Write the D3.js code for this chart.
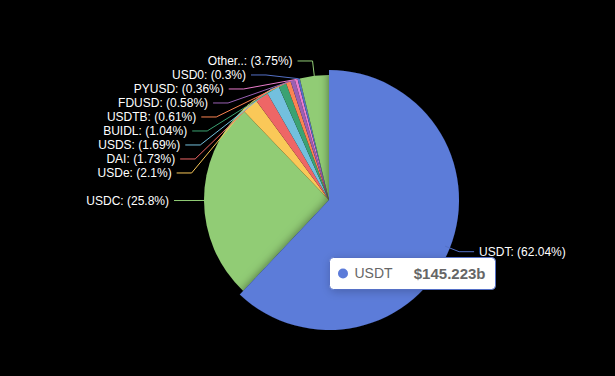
<!DOCTYPE html>
<html>
<head>
<meta charset="utf-8">
<script src="https://cdn.jsdelivr.net/npm/d3@7"></script>
<style>
  html, body { margin: 0; padding: 0; background: #000; }
  svg { display: block; }
</style>
</head>
<body>
<svg id="pie" width="615" height="376"></svg>
<script>

// Stablecoin names, clockwise from 12 o'clock
const names = ["USDT", "USDC", "USDe", "DAI", "USDS", "BUIDL", "USDTB",
               "FDUSD", "PYUSD", "USD0", "Other.."];

// Share of total supply (%)
const shares = [62.04, 25.8, 2.1, 1.73, 1.69, 1.04, 0.61, 0.58, 0.36, 0.3, 3.75];

// Slice colours (echarts default palette order)
const colors = ["#5470c6", "#91cc75", "#fac858", "#ee6666", "#73c0de", "#3ba272",
                "#fc8452", "#9a60b4", "#ea7ccc", "#5470c6", "#91cc75"];

// Hovered slice and its tooltip value
const hovered = 0;
const hoveredValue = "$145.223b";

function drawPie() {

  var svg = d3.select("svg#pie");

  const width = +svg.attr("width"),
        height = +svg.attr("height");

  const cx = 329, cy = 200;
  const radius = 125;
  const hoverRadius = radius + 5;

  // label line segment lengths and gap to text
  const len = 15, len2 = 15, gap = 5;
  const lineGap = 14;

  svg.append("rect")
     .attr("width", width)
     .attr("height", height)
     .attr("fill", "#000");

  // shadow under the hovered slice
  var defs = svg.append("defs");
  defs.append("filter")
      .attr("id", "shadow")
      .attr("x", "-30%").attr("y", "-30%")
      .attr("width", "160%").attr("height", "160%")
    .append("feDropShadow")
      .attr("dx", 0).attr("dy", 0)
      .attr("stdDeviation", 5)
      .attr("flood-color", "#000")
      .attr("flood-opacity", 0.5);

  defs.append("filter")
      .attr("id", "tipshadow")
      .attr("x", "-20%").attr("y", "-40%")
      .attr("width", "140%").attr("height", "180%")
    .append("feDropShadow")
      .attr("dx", 1).attr("dy", 2)
      .attr("stdDeviation", 5)
      .attr("flood-color", "#000")
      .attr("flood-opacity", 0.2);

  const data = names.map((n, i) => ({ name: n, share: shares[i], color: colors[i], i: i }));

  var pie = d3.pie()
      .sort(null)
      .value(d => d.share);

  var arcs = pie(data);

  var arc = d3.arc().innerRadius(0).outerRadius(radius);
  var hoverArc = d3.arc().innerRadius(0).outerRadius(hoverRadius);

  var g = svg.append("g").attr("transform", "translate(" + cx + "," + cy + ")");

  // normal slices first, hovered one on top so its shadow falls on neighbours
  g.selectAll("path.slice")
   .data(arcs.filter(a => a.data.i != hovered))
   .enter()
   .append("path")
   .attr("class", "slice")
   .attr("d", arc)
   .attr("fill", d => d.data.color);

  // echarts lifts the colour of a hovered item
  const lift = c => { let r = d3.rgb(c); return d3.rgb(r.r * 1.1 | 0, r.g * 1.1 | 0, r.b * 1.1 | 0); };

  g.append("path")
   .datum(arcs[hovered])
   .attr("d", hoverArc)
   .attr("fill", d => lift(d.data.color))
   .attr("filter", "url(#shadow)");

  // ---- label layout (roughly echarts' pie label placement) ----
  var labels = arcs.map(function(a) {
      const mid = (a.startAngle + a.endAngle) / 2;
      const dir = Math.sin(mid) >= 0 ? 1 : -1;
      return {
        a: a,
        dir: dir,
        x1: radius * Math.sin(mid),
        y1: -radius * Math.cos(mid),
        dx0: (radius + len) * Math.sin(mid),
        y: -(radius + len) * Math.cos(mid)
      };
  });

  [-1, 1].forEach(function(dir) {
    var side = labels.filter(l => l.dir == dir).sort((p, q) => p.y - q.y);
    var shifted = false;
    for (let k = 1; k < side.length; k++) {
      if (side[k].y < side[k - 1].y + lineGap) {
        side[k].y = side[k - 1].y + lineGap;
        shifted = true;
      }
    }
    side.forEach(l => l.dx = l.dx0);
    if (!shifted) return;

    // put x back on an ellipse fitted through the top-most label
    const R = radius + len;
    var top = side.filter(l => l.y < 0);
    if (top.length) {
      const t = top[0];
      const dy = Math.abs(t.y);
      const rB = Math.abs(t.dx0) < R ? Math.sqrt(dy * dy / (1 - t.dx0 * t.dx0 / R / R)) : R;
      top.forEach(function(l) {
        const d = Math.abs(l.y);
        l.dx = dir * Math.sqrt(Math.max(0, 1 - d * d / (rB * rB))) * R;
      });
    }
  });

  var lbl = g.append("g").attr("class", "labels");

  lbl.selectAll("polyline")
     .data(labels)
     .enter()
     .append("polyline")
     .attr("fill", "none")
     .attr("stroke", d => d.a.data.color)
     .attr("stroke-width", 1)
     .attr("points", d => [[d.x1, d.y1], [d.dx, d.y], [d.dx + d.dir * len2, d.y]].join(" "));

  lbl.selectAll("text")
     .data(labels)
     .enter()
     .append("text")
     .attr("x", d => d.dx + d.dir * (len2 + gap))
     .attr("y", d => d.y)
     .attr("dy", "0.35em")
     .attr("text-anchor", d => d.dir < 0 ? "end" : "start")
     .style("font-family", "'Liberation Sans', Arial, sans-serif")
     .style("font-size", "12px")
     .attr("fill", "#fff")
     .text(d => d.a.data.name + ": (" + d.a.data.share + "%)");

  // ---- tooltip for the hovered slice ----
  var tip = svg.append("g").attr("transform", "translate(329.5,257.5)");

  tip.append("rect")
     .attr("width", 166)
     .attr("height", 32)
     .attr("rx", 4)
     .attr("fill", "#fff")
     .attr("stroke", colors[hovered])
     .attr("filter", "url(#tipshadow)");

  tip.append("circle")
     .attr("cx", 13.5)
     .attr("cy", 16)
     .attr("r", 5)
     .attr("fill", lift(colors[hovered]));

  tip.append("text")
     .attr("x", 25)
     .attr("y", 16)
     .attr("dy", "0.35em")
     .style("font-family", "'Liberation Sans', Arial, sans-serif")
     .style("font-size", "14px")
     .attr("fill", "#666")
     .text(names[hovered]);

  tip.append("text")
     .attr("x", 156)
     .attr("y", 16)
     .attr("dy", "0.35em")
     .attr("text-anchor", "end")
     .style("font-family", "'Liberation Sans', Arial, sans-serif")
     .style("font-size", "15px")
     .style("font-weight", "bold")
     .attr("fill", "#666")
     .text(hoveredValue);
}

drawPie();
</script>
</body>
</html>
